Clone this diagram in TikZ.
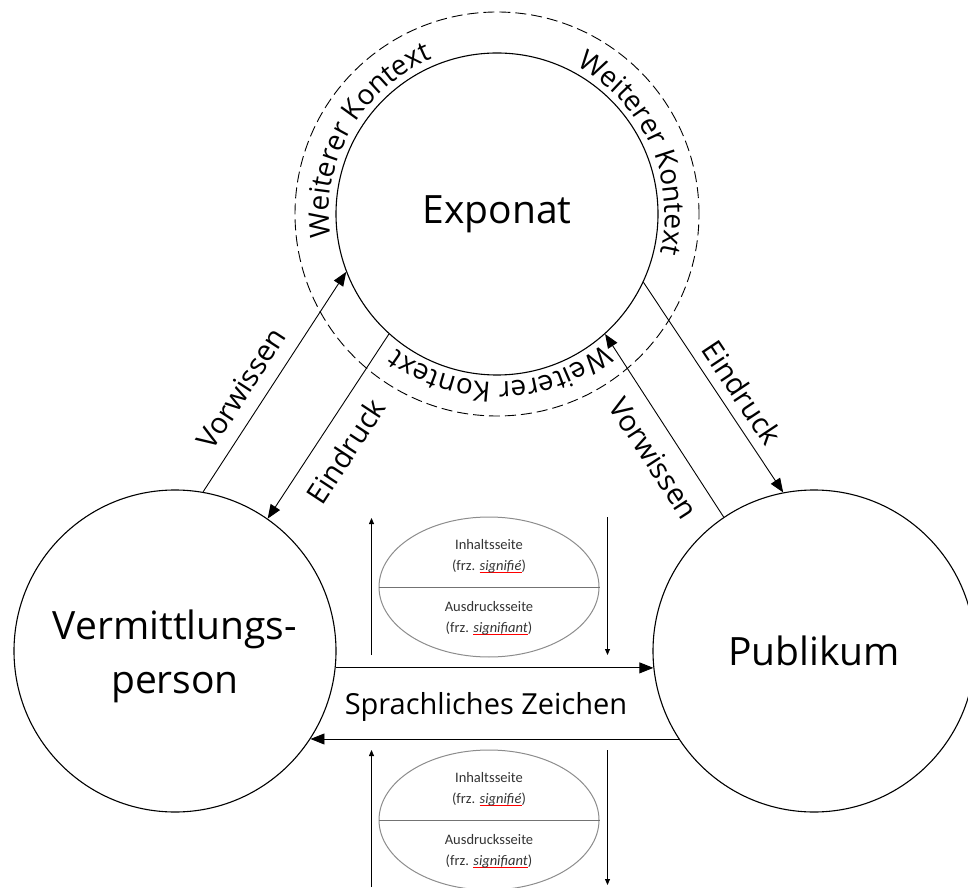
\documentclass[tikz,border=0pt]{standalone}
\usepackage{fontspec}
\setmainfont{Open Sans}
\newfontfamily\signfont{Carlito}
\usetikzlibrary{arrows.meta, decorations.text, shapes.geometric}

\newsavebox{\spellbox}
\newcommand{\spellmark}[1]{\sbox{\spellbox}{#1}\rlap{\textcolor{red}{\rule[-2.6pt]{\wd\spellbox}{0.9pt}}}\usebox{\spellbox}}

\begin{document}
\begin{tikzpicture}[x=1pt, y=1pt,
        party/.style = {circle, draw, line width=1.1pt,
            minimum size=322pt, inner sep=0pt,
            font=\fontsize{39}{54}\selectfont, align=center},
        flow/.style = {-{Triangle[length=14pt, width=11pt]}, line width=0.9pt},
        side/.style = {font=\fontsize{29}{32}\selectfont},
        sign/.style = {ellipse, draw=black!45, line width=1pt,
            minimum width=220pt, minimum height=140pt},
        signtext/.style = {font=\signfont\fontsize{14.5}{21}\selectfont,
            align=center, text=black!80},
        tick/.style = {-{Triangle[length=6pt, width=5pt]}, line width=0.8pt},
        context/.style = {decorate, decoration={text along path, text align=left,
            text={|\fontsize{28}{30}\selectfont|Weiterer Kontext}}}]

        \useasboundingbox (0,0) rectangle (968,887);

        % Exponat
        \node[party] (expo) at (497,673) {Exponat};
        \draw[dash pattern=on 11pt off 5pt, line width=0.9pt] (expo.center) circle[radius=202];

        % Weiterer Kontext
        \path[context] ([shift={(188:168)}]expo.center) arc[start angle=188, end angle=95, radius=168];
        \path[context] ([shift={(62:168)}]expo.center) arc[start angle=62, end angle=-30, radius=168];
        \path[context] ([shift={(-51:168)}]expo.center) arc[start angle=-51, end angle=-145, radius=168];

        % Vermittlungsperson
        \node[party] (verm) at (175,236) {};
        \node[font=\fontsize{39}{54}\selectfont, align=center] (vermtext) at (175,231) {Vermittlungs-\\person};

        % Publikum
        \node[party] (pub) at (814,236) {Publikum};

        % Vorwissen and Eindruck
        \draw[flow] (verm.80) -- node[side, pos=0.41, sloped, above=10pt] {Vorwissen} (expo.201);
        \draw[flow] (expo.228) -- node[side, pos=0.55, sloped, below=13pt] {Eindruck} (verm.55);
        \draw[flow] (expo.-25) -- node[side, pos=0.58, sloped, above=6pt] {Eindruck} (pub.101);
        \draw[flow] (pub.124) -- node[side, pos=0.40, sloped, below=12pt] {Vorwissen} (expo.-48);

        % Sprachliches Zeichen
        \draw[flow] (verm.-6) -- (pub.186);
        \draw[flow] (pub.213) -- (verm.-33);
        \node[side] (zeichen) at (486,180) {Sprachliches Zeichen};

        % Sign model, top
        \node[sign] (sigtop) at (489,300) {};
        \draw[black!55, line width=1pt] (sigtop.west) -- (sigtop.east);
        \node[signtext] (inhtop) at (489,331) {Inhaltsseite\\(frz. \spellmark{\textit{signifié}})};
        \node[signtext] (austop) at (489,269) {Ausdrucksseite\\(frz. \spellmark{\textit{signifiant}})};
        \draw[tick] ([shift={(-7,-68)}]sigtop.west) -- ([shift={(-7,69)}]sigtop.west);
        \draw[tick] ([shift={(8,70)}]sigtop.east) -- ([shift={(8,-68)}]sigtop.east);

        % Sign model, bottom
        \node[sign] (sigbot) at (489,67) {};
        \draw[black!55, line width=1pt] (sigbot.west) -- (sigbot.east);
        \node[signtext] (inhbot) at (489,98) {Inhaltsseite\\(frz. \spellmark{\textit{signifié}})};
        \node[signtext] (ausbot) at (489,36) {Ausdrucksseite\\(frz. \spellmark{\textit{signifiant}})};
        \draw[tick] ([shift={(-7,-67)}]sigbot.west) -- ([shift={(-7,70)}]sigbot.west);
        \draw[tick] ([shift={(8,70)}]sigbot.east) -- ([shift={(8,-65)}]sigbot.east);

    \end{tikzpicture}
\end{document}
